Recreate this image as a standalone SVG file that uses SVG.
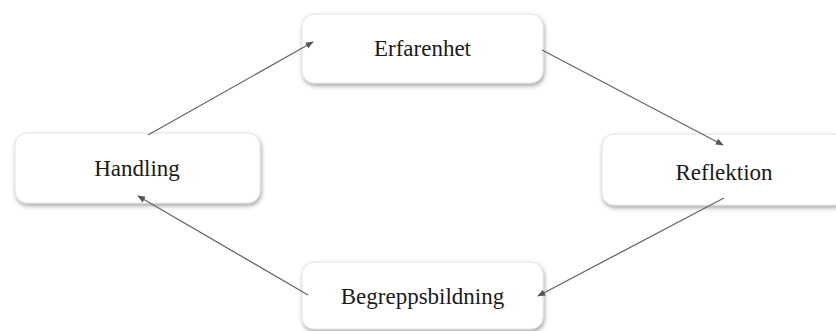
<svg xmlns="http://www.w3.org/2000/svg" width="836" height="331" viewBox="0 0 836 331">
<defs>
<filter id="sh" x="-10%" y="-20%" width="120%" height="150%">
<feDropShadow dx="1" dy="2.5" stdDeviation="2" flood-color="#000" flood-opacity="0.35"/>
</filter>
<marker id="ah" viewBox="0 0 10 10" refX="9" refY="5" markerWidth="8" markerHeight="8" markerUnits="userSpaceOnUse" orient="auto">
<path d="M0,1 L10,5 L0,9 z" fill="#555"/>
</marker>
<style>
.box{fill:#fff;stroke:#e2e2e2;stroke-width:1;filter:url(#sh)}
.lbl{font-family:"Liberation Serif","Times New Roman",serif;font-size:23px;fill:#1a1a1a;text-anchor:middle}
.con{stroke:#666;stroke-width:1.3;fill:none;marker-end:url(#ah)}
</style>
</defs>
<rect width="836" height="331" fill="#fff"/>
<g id="erfarenhet">
<rect class="box" x="302" y="14" width="241" height="69" rx="12"/>
<text class="lbl" x="422.5" y="56">Erfarenhet</text>
</g>
<g id="handling">
<rect class="box" x="15" y="133" width="245" height="70" rx="12"/>
<text class="lbl" x="137" y="176">Handling</text>
</g>
<g id="reflektion">
<rect class="box" x="602" y="134" width="244" height="71" rx="12"/>
<text class="lbl" x="724" y="180">Reflektion</text>
</g>
<g id="begreppsbildning">
<rect class="box" x="302" y="262" width="241" height="67" rx="12"/>
<text class="lbl" x="422.5" y="304">Begreppsbildning</text>
</g>
<g id="connectors">
<line class="con" x1="148" y1="135" x2="313" y2="42"/>
<line class="con" x1="542" y1="50" x2="723" y2="145"/>
<line class="con" x1="724" y1="198" x2="538" y2="296"/>
<line class="con" x1="308" y1="295" x2="138" y2="196"/>
</g>
</svg>
